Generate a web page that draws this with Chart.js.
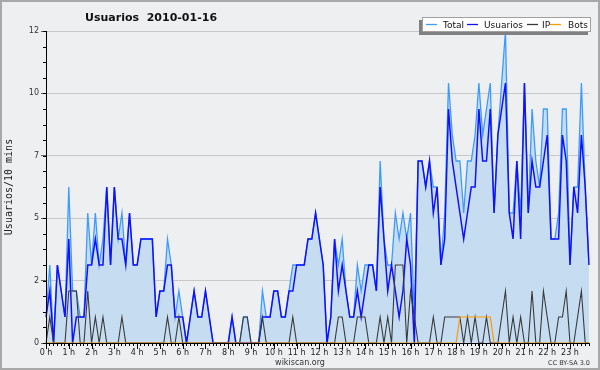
<!DOCTYPE html>
<html><head><meta charset="utf-8">
<script src="https://cdn.jsdelivr.net/npm/chart.js@4.4.1/dist/chart.umd.min.js"></script>
<style>
html,body{margin:0;padding:0;background:#eeeff1;}
#wrap{position:relative;width:600px;height:370px;}
canvas{display:block;}
</style></head>
<body><div id="wrap"><canvas id="c" width="600" height="370"></canvas></div>
<script>
const chartTitle = "Usuarios  2010-01-16";
const yAxisTitle = "Usuarios/10 mins";
const footerLeft = "wikiscan.org";
const footerRight = "CC BY-SA 3.0";
const hourLabels = ["0 h","1 h","2 h","3 h","4 h","5 h","6 h","7 h","8 h","9 h","10 h","11 h",
  "12 h","13 h","14 h","15 h","16 h","17 h","18 h","19 h","20 h","21 h","22 h","23 h"];
const seriesNames = ["Total","Usuarios","IP","Bots"];
const seriesColors = ["#3d9bff","#1010ff","#3a3a3a","#ff9900"];

// one value per 10 minutes, 00:00 .. 23:50
const total = [
  1,3,0,3,2,1,  6,2,2,1,1,5,  3,5,3,4,6,3,  6,4,5,3,5,3,
  3,4,4,4,4,1,  2,2,4,3,1,2,  1,0,1,2,1,1,  2,1,0,0,0,0,
  0,1,0,0,1,1,  0,0,0,2,1,1,  2,2,1,1,2,3,  3,3,3,4,4,5,
  4,3,0,1,4,3,  4,2,1,1,3,2,  3,3,3,2,7,4,  3,3,5,4,5,4,
  5,1,7,7,6,7,  6,6,3,5,10,8, 7,7,5,7,7,8,  10,8,9,10,5,8,
  10,12,5,5,7,5, 10,5,9,7,6,9, 9,4,4,5,9,9,  3,6,6,10,6,3
];
const usuarios = [
  1,2,0,3,2,1,  4,0,1,1,1,3,  3,4,3,3,6,3,  6,4,4,3,5,3,
  3,4,4,4,4,1,  2,2,3,3,1,1,  1,0,1,2,1,1,  2,1,0,0,0,0,
  0,1,0,0,0,0,  0,0,0,1,1,1,  2,2,1,1,2,2,  3,3,3,4,4,5,
  4,3,0,1,4,2,  3,2,1,1,2,1,  2,3,3,2,6,4,  2,3,2,1,2,4,
  3,0,7,7,6,7,  5,6,3,4,9,7,  6,5,4,5,6,6,  9,7,7,9,5,8,
  9,10,5,4,7,4, 10,5,7,6,6,7, 8,4,4,4,8,7,  3,6,5,8,6,3
];
const ip = [
  0,1,0,0,0,0,  2,2,2,0,0,2,  0,1,0,1,0,0,  0,0,1,0,0,0,
  0,0,0,0,0,0,  0,0,1,0,0,1,  0,0,0,0,0,0,  0,0,0,0,0,0,
  0,0,0,0,1,1,  0,0,0,1,0,0,  0,0,0,0,0,1,  0,0,0,0,0,0,
  0,0,0,0,0,1,  1,0,0,0,1,1,  1,0,0,0,1,0,  1,0,3,3,3,0,
  2,1,0,0,0,0,  1,0,0,1,1,1,  1,1,0,1,0,1,  0,0,1,0,0,0,
  1,2,0,1,0,1,  0,0,2,0,0,2,  1,0,0,1,1,2,  0,0,1,2,0,0
];
const bots = [
  0,0,0,0,0,0,  0,0,0,0,0,0,  0,0,0,0,0,0,  0,0,0,0,0,0,
  0,0,0,0,0,0,  0,0,0,0,0,0,  0,0,0,0,0,0,  0,0,0,0,0,0,
  0,0,0,0,0,0,  0,0,0,0,0,0,  0,0,0,0,0,0,  0,0,0,0,0,0,
  0,0,0,0,0,0,  0,0,0,0,0,0,  0,0,0,0,0,0,  0,0,0,0,0,0,
  0,0,0,0,0,0,  0,0,0,0,0,0,  0,1,1,1,1,1,  1,1,1,1,0,0,
  0,0,0,0,0,0,  0,0,0,0,0,0,  0,0,0,0,0,0,  0,0,0,0,0,0
];
const slots = total.map((_, i) => i);
const yMax = 12, yStep = 2.4, yMinorStep = 0.6, slotsPerHour = 6;

const FONT = "'DejaVu Sans', sans-serif";

const deco = {
  id: 'deco',
  beforeDraw(chart) {
    const ctx = chart.ctx;
    ctx.save();
    ctx.fillStyle = '#eeeff1';
    ctx.fillRect(0, 0, chart.width, chart.height);
    ctx.restore();
  },
  afterDraw(chart) {
    const ctx = chart.ctx, xs = chart.scales.x, ys = chart.scales.y;
    ctx.save();
    // axis lines on top of the data, minor y ticks and major x ticks
    ctx.strokeStyle = '#000'; ctx.lineWidth = 1;
    ctx.beginPath();
    const by = Math.round(ys.bottom) + 0.5, lx = Math.round(xs.left) + 0.5;
    ctx.moveTo(xs.left, by); ctx.lineTo(xs.right + 1, by);
    ctx.moveTo(lx, ys.top); ctx.lineTo(lx, ys.bottom + 1);
    for (let v = 0; v <= yMax + 1e-9; v += yMinorStep) {
      const py = Math.round(ys.getPixelForValue(v)) + 0.5;
      ctx.moveTo(xs.left - 3, py); ctx.lineTo(xs.left, py);
    }
    for (let h = 0; h < hourLabels.length; h++) {
      const px = Math.round(xs.getPixelForValue(h * slotsPerHour)) + 0.5;
      ctx.moveTo(px, ys.bottom); ctx.lineTo(px, ys.bottom + 6);
    }
    ctx.stroke();

    // title
    ctx.fillStyle = '#111';
    ctx.font = "bold 11px " + FONT;
    ctx.textBaseline = 'alphabetic';
    ctx.textAlign = 'left';
    ctx.fillText(chartTitle, 85, 21);

    // legend box with shadow
    ctx.fillStyle = '#808080';
    ctx.fillRect(419, 20, 169, 15);
    ctx.fillStyle = '#ffffff';
    ctx.fillRect(422, 17, 169, 15);
    ctx.strokeStyle = '#a0a0a0';
    ctx.lineWidth = 1;
    ctx.strokeRect(422.5, 17.5, 168, 14);
    const lineX = [426, 467, 527, 550];
    const textX = [443, 484, 542, 568];
    ctx.font = "9px " + FONT;
    for (let k = 0; k < seriesNames.length; k++) {
      ctx.strokeStyle = seriesColors[k];
      ctx.lineWidth = 1.3;
      ctx.beginPath();
      ctx.moveTo(lineX[k], 24.5); ctx.lineTo(lineX[k] + 11, 24.5);
      ctx.stroke();
      ctx.fillStyle = '#111';
      ctx.fillText(seriesNames[k], textX[k], 28);
    }

    // footer
    ctx.fillStyle = '#333';
    ctx.font = "8px " + FONT;
    ctx.textAlign = 'center';
    ctx.fillText(footerLeft, 300, 365);
    ctx.font = "6.5px " + FONT;
    ctx.textAlign = 'right';
    ctx.fillText(footerRight, 590, 365);

    // outer border
    ctx.strokeStyle = '#a8a8a8';
    ctx.lineWidth = 2;
    ctx.strokeRect(1, 1, chart.width - 2, chart.height - 2);
    ctx.restore();
  }
};

const mk = (k, data, extra) => Object.assign({
  label: seriesNames[k], data, borderColor: seriesColors[k], borderWidth: 1.3,
  pointRadius: 0, tension: 0, fill: false
}, extra);

new Chart(document.getElementById('c'), {
  type: 'line',
  data: {
    labels: slots,
    datasets: [
      mk(3, bots, { order: 1, borderWidth: 1.2 }),
      mk(2, ip, { order: 2, borderWidth: 1.1 }),
      mk(1, usuarios, { order: 3, borderWidth: 1.5 }),
      mk(0, total, { order: 4, fill: 'origin', backgroundColor: '#c6dcf0', borderWidth: 1.3 })
    ]
  },
  options: {
    responsive: false,
    devicePixelRatio: 1,
    animation: false,
    layout: { padding: { left: 0, right: 11, top: 31, bottom: 0 } },
    plugins: { legend: { display: false }, title: { display: false }, tooltip: { enabled: false } },
    scales: {
      x: {
        type: 'category',
        offset: false,
        grid: { drawOnChartArea: false, drawTicks: true, tickLength: 3, tickColor: '#000', tickWidth: 1 },
        border: { display: true, color: '#000', width: 1 },
        ticks: {
          autoSkip: false, maxRotation: 0, minRotation: 0, padding: 2,
          color: '#222', font: { family: FONT, size: 8 },
          callback: (v, i) => (i % slotsPerHour === 0 ? hourLabels[i / slotsPerHour] : '')
        },
        afterFit: s => { s.height = 27; }
      },
      y: {
        min: 0, max: yMax,
        grid: { color: '#c8c8c8', lineWidth: 1, drawTicks: true, tickLength: 5, tickColor: '#666' },
        border: { display: true, color: '#000', width: 1 },
        ticks: {
          stepSize: yStep, padding: 2, color: '#333', font: { family: FONT, size: 8 },
          callback: v => Math.round(v)
        },
        title: { display: true, text: yAxisTitle, color: '#222', padding: { top: 3, bottom: 0 },
          font: { family: "'DejaVu Sans Mono', monospace", size: 10 } },
        afterFit: s => { s.width = 46; }
      }
    }
  },
  plugins: [deco]
});
</script>
</body></html>
